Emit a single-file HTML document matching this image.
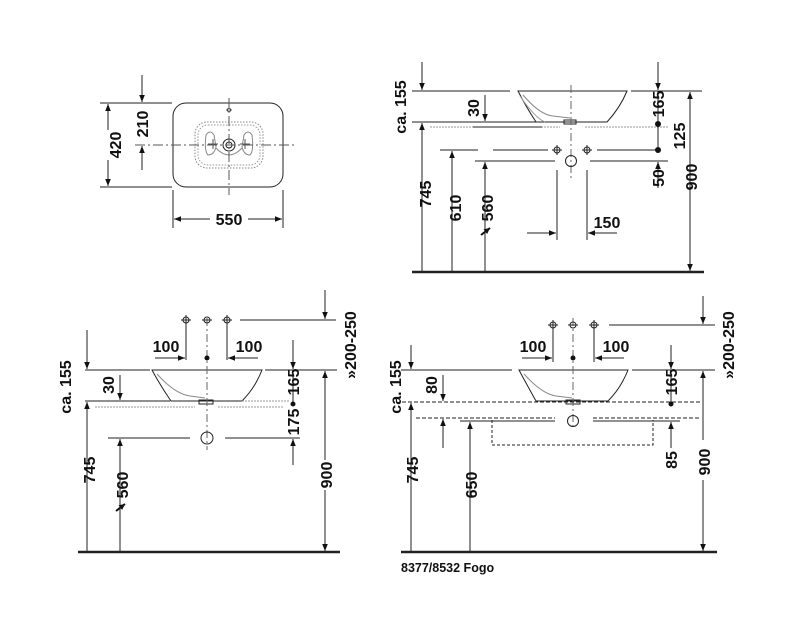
<!DOCTYPE html>
<html><head><meta charset="utf-8"><style>
html,body{margin:0;padding:0;background:#fff;}
svg{display:block;font-family:"Liberation Sans",Arial,sans-serif;font-weight:bold;}
text{font-size:16px;fill:#111;}
</style></head><body>
<svg width="799" height="630" viewBox="0 0 799 630" xmlns="http://www.w3.org/2000/svg">
<defs>
<marker id="a" viewBox="0 0 10 10" refX="10" refY="5" markerWidth="9" markerHeight="7" orient="auto-start-reverse" markerUnits="userSpaceOnUse"><path d="M0,1 L10,5 L0,9z" fill="#111"/></marker>
<marker id="s" viewBox="0 0 10 10" refX="10" refY="5" markerWidth="6" markerHeight="6" orient="auto" markerUnits="userSpaceOnUse"><path d="M0,0 L10,5 L0,10z" fill="#111"/></marker>
</defs>
<g stroke="#222" stroke-width="1" fill="none">
<!-- ===== TOP LEFT plan ===== -->
<rect x="173" y="103" width="110" height="84" rx="13"/>
<rect x="195" y="122" width="68" height="46" rx="12" stroke="#888" stroke-dasharray="1.5,1.5"/>
<rect x="198" y="125" width="62" height="40" rx="10" stroke="#999" stroke-dasharray="1.5,1.5"/>
<path d="M206,135 q4,-6 8,0 l2,12 q-2,8 -8,8 q-4,-4 -2,-20z" stroke="#888"/>
<path d="M252,135 q-4,-6 -8,0 l-2,12 q2,8 8,8 q4,-4 2,-20z" stroke="#888"/>
<path d="M216,148 q13,14 26,0" stroke="#888"/>
<circle cx="229" cy="145" r="6"/><circle cx="229" cy="145" r="3"/>
<line x1="213" y1="139" x2="213" y2="149" stroke="#555"/><line x1="208" y1="144" x2="218" y2="144" stroke="#555"/>
<line x1="245" y1="139" x2="245" y2="149" stroke="#555"/><line x1="240" y1="144" x2="250" y2="144" stroke="#555"/>
<ellipse cx="229" cy="110" rx="2" ry="1.2"/>
<line x1="229" y1="98" x2="229" y2="195" stroke="#555" stroke-dasharray="10,3,2,3"/>
<line x1="135" y1="145" x2="295" y2="145" stroke="#555" stroke-dasharray="10,3,2,3"/>
<line x1="100" y1="103" x2="172" y2="103"/><line x1="100" y1="187" x2="172" y2="187"/>
<line x1="108" y1="130" x2="108" y2="104" marker-end="url(#a)"/><line x1="108" y1="160" x2="108" y2="186" marker-end="url(#a)"/>
<line x1="142" y1="75" x2="142" y2="102" marker-end="url(#a)"/><line x1="142" y1="170" x2="142" y2="146" marker-end="url(#a)"/>
<line x1="173" y1="190" x2="173" y2="228"/><line x1="283" y1="190" x2="283" y2="228"/>
<line x1="210" y1="219" x2="174" y2="219" marker-end="url(#a)"/><line x1="248" y1="219" x2="282" y2="219" marker-end="url(#a)"/>

<!-- ===== TOP RIGHT ===== -->
<line x1="412" y1="272" x2="704" y2="272" stroke-width="2.5"/>
<path d="M518,91 L627,91 Q620,108 607,122 L536,122 Q525,105 518,91z"/>
<path d="M523,95 Q540,115 553,116 L570,118" stroke="#888"/>
<path d="M520,96 Q535,118 545,122" stroke="#999"/>
<rect x="564" y="120" width="12" height="4"/>
<line x1="571" y1="85" x2="571" y2="180" stroke="#666" stroke-dasharray="8,3,2,3"/>
<line x1="412" y1="91" x2="510" y2="91"/><line x1="631" y1="91" x2="702" y2="91"/>
<line x1="412" y1="122" x2="540" y2="122"/>
<line x1="430" y1="127" x2="560" y2="127" stroke="#999" stroke-dasharray="2,1"/>
<line x1="585" y1="127" x2="668" y2="127" stroke="#999" stroke-dasharray="2,1"/>
<line x1="473" y1="127" x2="542" y2="127"/>
<line x1="422" y1="62" x2="422" y2="90" marker-end="url(#a)"/><line x1="422" y1="271" x2="422" y2="123" marker-end="url(#a)"/>
<line x1="485" y1="95" x2="485" y2="121" marker-end="url(#a)"/><line x1="485" y1="271" x2="485" y2="162" marker-end="url(#a)"/>
<line x1="452" y1="271" x2="452" y2="151" marker-end="url(#a)"/>
<line x1="440" y1="150" x2="478" y2="150"/><line x1="493" y1="150" x2="548" y2="150"/><line x1="597" y1="150" x2="660" y2="150"/>
<circle cx="557" cy="150" r="3"/><line x1="552" y1="150" x2="562" y2="150"/><line x1="557" y1="145" x2="557" y2="155"/>
<circle cx="587" cy="150" r="3"/><line x1="582" y1="150" x2="592" y2="150"/><line x1="587" y1="145" x2="587" y2="155"/>
<circle cx="571" cy="161" r="5.5"/>
<line x1="475" y1="161" x2="555" y2="161"/><line x1="590" y1="161" x2="668" y2="161"/>
<line x1="658" y1="62" x2="658" y2="90" marker-end="url(#a)"/><line x1="658" y1="91" x2="658" y2="150"/>
<line x1="658" y1="188" x2="658" y2="162" marker-end="url(#a)"/>
<line x1="690" y1="185" x2="690" y2="92" marker-end="url(#a)"/><line x1="690" y1="185" x2="690" y2="271" marker-end="url(#a)"/>
<line x1="557" y1="170" x2="557" y2="240"/><line x1="587" y1="170" x2="587" y2="240"/>
<line x1="527" y1="233" x2="556" y2="233" marker-end="url(#a)"/><line x1="617" y1="233" x2="588" y2="233" marker-end="url(#a)"/>

<!-- ===== BOTTOM LEFT ===== -->
<line x1="78" y1="552" x2="340" y2="552" stroke-width="2.5"/>
<path d="M152,370 L262,370 Q255,388 242,401 L171,401 Q160,385 152,370z"/>
<path d="M157,374 Q175,394 190,396 L205,398" stroke="#888"/>
<rect x="199" y="400" width="14" height="4"/>
<line x1="207" y1="318" x2="207" y2="450" stroke="#666" stroke-dasharray="8,3,2,3"/>
<line x1="85" y1="370" x2="150" y2="370"/><line x1="265" y1="370" x2="337" y2="370"/>
<line x1="85" y1="401" x2="170" y2="401"/><line x1="242" y1="401" x2="290" y2="401" stroke="#999" stroke-dasharray="2,1"/>
<line x1="95" y1="407" x2="195" y2="407" stroke="#999" stroke-dasharray="2,1"/><line x1="218" y1="407" x2="283" y2="407" stroke="#999" stroke-dasharray="2,1"/>
<line x1="87" y1="330" x2="87" y2="369" marker-end="url(#a)"/><line x1="87" y1="551" x2="87" y2="402" marker-end="url(#a)"/>
<line x1="120" y1="375" x2="120" y2="400" marker-end="url(#a)"/><line x1="120" y1="551" x2="120" y2="439" marker-end="url(#a)"/>
<line x1="108" y1="438" x2="190" y2="438"/><line x1="225" y1="438" x2="300" y2="438"/>
<circle cx="207" cy="438" r="6"/>
<g><circle cx="186" cy="320" r="3"/><line x1="181" y1="320" x2="191" y2="320"/><line x1="186" y1="315" x2="186" y2="360"/></g>
<g><circle cx="207" cy="320" r="3"/><line x1="202" y1="320" x2="212" y2="320"/></g>
<g><circle cx="227" cy="320" r="3"/><line x1="222" y1="320" x2="232" y2="320"/><line x1="227" y1="315" x2="227" y2="360"/></g>
<line x1="240" y1="320" x2="336" y2="320"/>
<line x1="155" y1="358" x2="185" y2="358" marker-end="url(#a)"/><line x1="258" y1="358" x2="228" y2="358" marker-end="url(#a)"/>
<line x1="325" y1="290" x2="325" y2="319" marker-end="url(#a)"/>
<line x1="325" y1="460" x2="325" y2="371" marker-end="url(#a)"/><line x1="325" y1="490" x2="325" y2="551" marker-end="url(#a)"/>
<line x1="293" y1="340" x2="293" y2="369" marker-end="url(#a)"/><line x1="293" y1="370" x2="293" y2="404"/>
<line x1="293" y1="465" x2="293" y2="439" marker-end="url(#a)"/>

<!-- ===== BOTTOM RIGHT ===== -->
<line x1="401" y1="552" x2="717" y2="552" stroke-width="2.5"/>
<path d="M519,370 L628,370 Q621,388 608,401 L536,401 Q527,385 519,370z"/>
<path d="M524,374 Q542,394 556,396 L572,398" stroke="#888"/>
<rect x="566" y="400" width="14" height="4"/>
<line x1="573" y1="318" x2="573" y2="430" stroke="#666" stroke-dasharray="8,3,2,3"/>
<line x1="401" y1="370" x2="512" y2="370"/><line x1="632" y1="370" x2="715" y2="370"/>
<line x1="402" y1="402" x2="700" y2="402" stroke-dasharray="4,2"/>
<line x1="416" y1="418" x2="555" y2="418" stroke-dasharray="4,2"/><line x1="593" y1="418" x2="700" y2="418" stroke-dasharray="4,2"/>
<path d="M492,420 L492,445 L653,445 L653,420" stroke-dasharray="3,2"/>
<line x1="460" y1="421" x2="555" y2="421"/><line x1="593" y1="421" x2="680" y2="421"/>
<circle cx="573" cy="421" r="5.5"/>
<line x1="411" y1="345" x2="411" y2="369" marker-end="url(#a)"/><line x1="411" y1="551" x2="411" y2="403" marker-end="url(#a)"/>
<line x1="443" y1="375" x2="443" y2="401" marker-end="url(#a)"/><line x1="443" y1="448" x2="443" y2="419" marker-end="url(#a)"/>
<line x1="470" y1="551" x2="470" y2="422" marker-end="url(#a)"/>
<g><circle cx="553" cy="325" r="3"/><line x1="548" y1="325" x2="558" y2="325"/><line x1="553" y1="320" x2="553" y2="362"/></g>
<g><circle cx="573" cy="325" r="3"/><line x1="568" y1="325" x2="578" y2="325"/></g>
<g><circle cx="594" cy="325" r="3"/><line x1="589" y1="325" x2="599" y2="325"/><line x1="594" y1="320" x2="594" y2="362"/></g>
<line x1="609" y1="325" x2="715" y2="325"/>
<line x1="522" y1="358" x2="552" y2="358" marker-end="url(#a)"/><line x1="624" y1="358" x2="595" y2="358" marker-end="url(#a)"/>
<line x1="703" y1="296" x2="703" y2="324" marker-end="url(#a)"/>
<line x1="703" y1="440" x2="703" y2="371" marker-end="url(#a)"/><line x1="703" y1="480" x2="703" y2="551" marker-end="url(#a)"/>
<line x1="671" y1="345" x2="671" y2="369" marker-end="url(#a)"/><line x1="671" y1="370" x2="671" y2="404"/>
<line x1="671" y1="448" x2="671" y2="422" marker-end="url(#a)"/>
</g>
<g fill="#111">
<circle cx="658" cy="124" r="3"/><circle cx="658" cy="150" r="3"/>
<circle cx="207" cy="358" r="2.5"/><circle cx="293" cy="404" r="2.5"/>
<circle cx="573" cy="358" r="2.5"/><circle cx="671" cy="404" r="2.5"/>
</g>
<!-- small arrows near 560 -->
<g stroke="#111" stroke-width="2"><line x1="481" y1="235" x2="490" y2="228" marker-end="url(#s)"/><line x1="116" y1="511" x2="125" y2="504" marker-end="url(#s)"/></g>

<!-- labels -->
<g text-anchor="middle">
<text transform="translate(121,145) rotate(-90)">420</text>
<text transform="translate(148,124) rotate(-90)">210</text>
<text x="229" y="225">550</text>

<text transform="translate(406,107) rotate(-90)">ca. 155</text>
<text transform="translate(431,194) rotate(-90)">745</text>
<text transform="translate(479,108) rotate(-90)">30</text>
<text transform="translate(461,208) rotate(-90)">610</text>
<text transform="translate(493,208) rotate(-90)">560</text>
<text transform="translate(664,104) rotate(-90)">165</text>
<text transform="translate(685,136) rotate(-90)">125</text>
<text transform="translate(664,178) rotate(-90)">50</text>
<text transform="translate(697,177) rotate(-90)">900</text>
<text x="607" y="228">150</text>

<text transform="translate(71,387) rotate(-90)">ca. 155</text>
<text transform="translate(95,470) rotate(-90)">745</text>
<text transform="translate(114,385) rotate(-90)">30</text>
<text transform="translate(128,485) rotate(-90)">560</text>
<text x="166" y="352">100</text><text x="249" y="352">100</text>
<text transform="translate(299,382) rotate(-90)">165</text>
<text transform="translate(299,422) rotate(-90)">175</text>
<text transform="translate(332,475) rotate(-90)">900</text>
<text transform="translate(356,345) rotate(-90)">»200-250</text>

<text transform="translate(401,387) rotate(-90)">ca. 155</text>
<text transform="translate(418,470) rotate(-90)">745</text>
<text transform="translate(437,385) rotate(-90)">80</text>
<text transform="translate(477,485) rotate(-90)">650</text>
<text x="533" y="352">100</text><text x="616" y="352">100</text>
<text transform="translate(677,382) rotate(-90)">165</text>
<text transform="translate(677,460) rotate(-90)">85</text>
<text transform="translate(710,462) rotate(-90)">900</text>
<text transform="translate(734,345) rotate(-90)">»200-250</text>
</g>
<text x="401" y="572" style="font-size:12.5px">8377/8532 Fogo</text>
</svg>
</body></html>
